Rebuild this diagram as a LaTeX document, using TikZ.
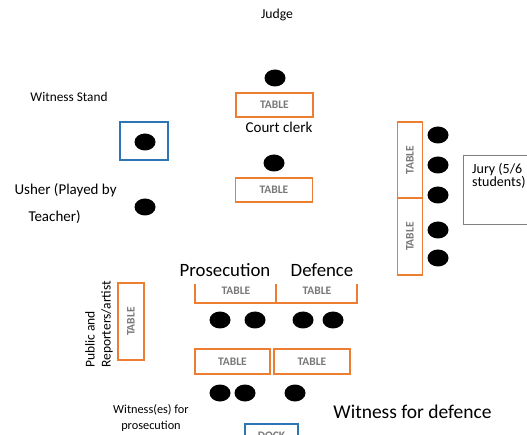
\documentclass[tikz,border=0pt]{standalone}
\usepackage{fontspec}
\setmainfont{Carlito}
\usetikzlibrary{shapes.geometric, positioning}
\definecolor{tblorange}{RGB}{237,125,49}
\definecolor{standblue}{RGB}{46,117,182}
\definecolor{tbltext}{RGB}{120,120,120}

\begin{document}
\begin{tikzpicture}[x=1pt, y=-1pt,
    seat/.style={draw=none, fill=black, ellipse, minimum width=21pt, minimum height=17pt, inner sep=0pt},
    tbl/.style={draw=tblorange, line width=1.6pt, inner sep=0pt, font=\fontsize{11.5}{12}\selectfont\bfseries, text=tbltext},
    lbl/.style={font=\fontsize{14}{13}\selectfont},
    biglbl/.style={font=\fontsize{18.8}{21}\selectfont}]
    \clip (0,0) rectangle (527,435);
    \useasboundingbox (0,0) rectangle (527,435);

    % judge and clerk
    \node[lbl, font=\fontsize{13.7}{15}\selectfont] (judge) at (277,15) {Judge};
    \node[seat] (sjudge) at (275,78) {};
    \node[tbl, minimum width=77pt, minimum height=24pt] (tjudge) at (274.5,105) {TABLE};
    \node[lbl, font=\fontsize{15}{16}\selectfont] (clerk) at (279,127) {Court clerk};
    \node[seat] (sclerk) at (274,163) {};
    \node[tbl, minimum width=77pt, minimum height=24pt] (tclerk) at (274,190) {TABLE};

    % witness stand and usher
    \node[lbl, font=\fontsize{13.3}{15}\selectfont] (wstand) at (69,97) {Witness Stand};
    \node[draw=standblue, line width=1.6pt, minimum width=48pt, minimum height=38pt] (stand) at (144,141) {};
    \node[seat] (switness) at (145,142) {};
    \node[lbl, anchor=west, font=\fontsize{15}{16}\selectfont] (usher) at (11,190) {Usher (Played by};
    \node[lbl, anchor=west, font=\fontsize{15}{16}\selectfont] (teacher) at (25,217) {Teacher)};
    \node[seat] (susher) at (145,207) {};

    % jury
    \node[tbl, minimum width=25pt, minimum height=76pt] (tjury1) at (410,160) {\rotatebox{90}{TABLE}};
    \node[tbl, minimum width=25pt, minimum height=77pt] (tjury2) at (410,236.5) {\rotatebox{90}{TABLE}};
    \foreach \y/\n in {135/1, 165/2, 195/3, 230/4, 258/5}
        \node[seat] (sjury\n) at (438,\y) {};
    \node[draw=gray, line width=0.6pt, minimum width=80pt, minimum height=69pt] (jurybox) at (503,189.5) {};
    \node[lbl, anchor=north west, align=left, inner sep=0pt] (jury) at (472,163) {Jury (5/6\\students)};

    % prosecution and defence
    \node[biglbl] (prosecution) at (225,270) {Prosecution};
    \node[biglbl] (defence) at (322,270) {Defence};
    \draw[tblorange, line width=1.6pt] (195,284) |- (357,303) -- (357,284);
    \draw[tblorange, line width=1.6pt] (276,284) -- (276,303);
    \node[tbl, draw=none] (tpros) at (236,291) {TABLE};
    \node[tbl, draw=none] (tdef) at (317,291) {TABLE};
    \foreach \x/\n in {220/1, 255/2, 303/3, 333/4}
        \node[seat] (scounsel\n) at (\x,320) {};
    \node[tbl, minimum width=75pt, minimum height=25pt] (twpros) at (232.5,361.5) {TABLE};
    \node[tbl, minimum width=76pt, minimum height=25pt] (twdef) at (312,361.5) {TABLE};
    \node[seat] (swpros1) at (220,393) {};
    \node[seat] (swpros2) at (245,393) {};
    \node[seat] (swdef) at (295,393) {};
    \node[font=\fontsize{12.3}{14}\selectfont, align=center] (wpros) at (151,418) {Witness(es) for\\[2pt]prosecution};
    \node[biglbl, font=\fontsize{19.5}{21}\selectfont] (wdef) at (412.5,412) {Witness for defence};

    % dock
    \node[draw=standblue, line width=1.6pt, minimum width=53pt, minimum height=24pt, anchor=north, font=\fontsize{11.5}{12}\selectfont\bfseries, text=tbltext] (dock) at (271.5,423) {DOCK};

    % public
    \node[lbl, font=\fontsize{13.5}{16}\selectfont, rotate=90, anchor=north west, align=left, inner sep=0pt] (public) at (85,368) {Public and\\Reporters/artist};
    \node[tbl, minimum width=26pt, minimum height=77pt] (tpublic) at (131,321.5) {\rotatebox{90}{TABLE}};
\end{tikzpicture}
\end{document}
